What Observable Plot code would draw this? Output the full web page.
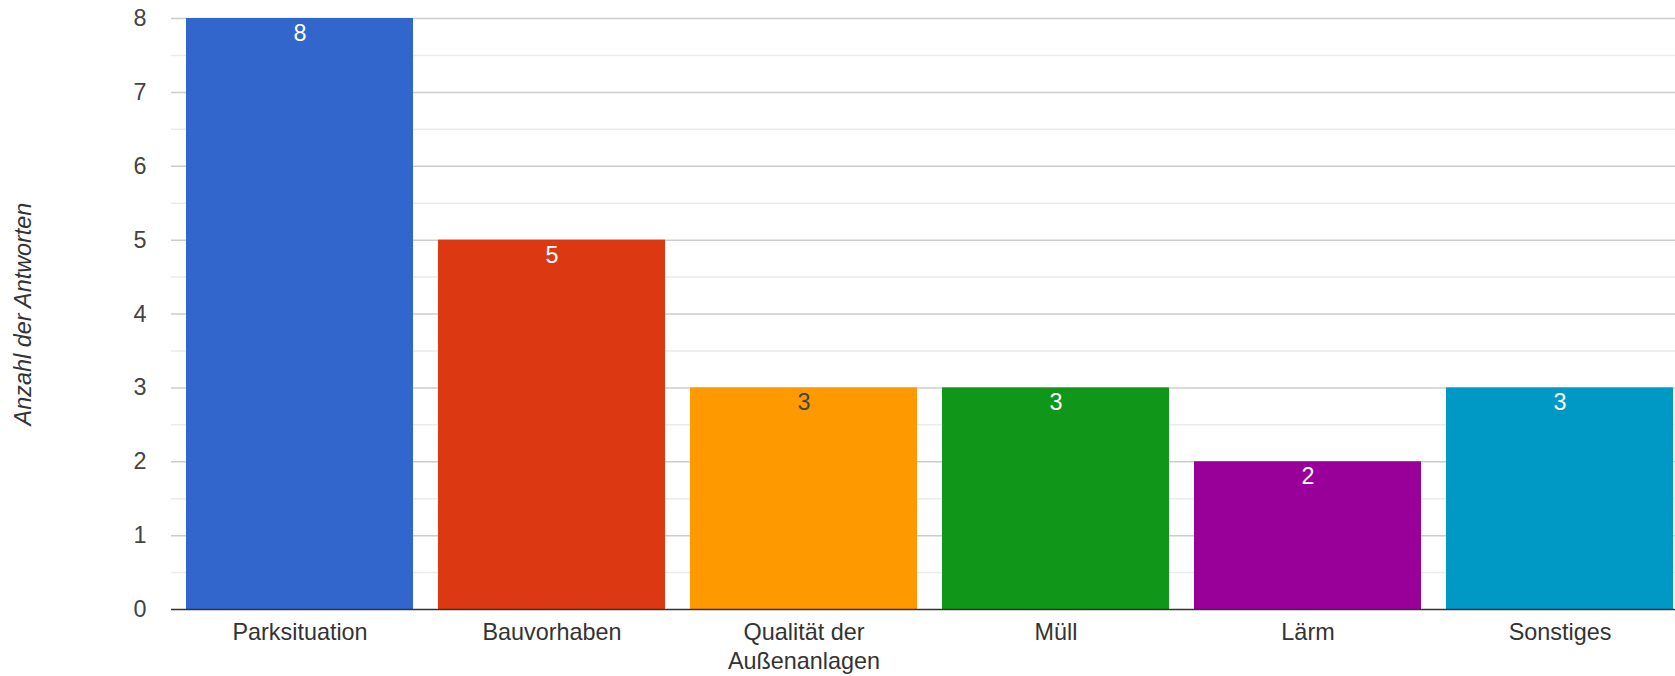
<!DOCTYPE html>
<html>
<head>
<meta charset="utf-8">
<script src="https://cdn.jsdelivr.net/npm/d3@7"></script>
<script src="https://cdn.jsdelivr.net/npm/@observablehq/plot@0.6"></script>
<style>
  html, body { margin: 0; padding: 0; background: #fff; overflow: hidden; }
  #chart svg { display: block; }
</style>
</head>
<body>
<div id="chart"></div>
<script>
const categories = ["Parksituation", "Bauvorhaben", "Qualität der Außenanlagen", "Müll", "Lärm", "Sonstiges"];
const tickLabels = ["Parksituation", "Bauvorhaben", "Qualität der\nAußenanlagen", "Müll", "Lärm", "Sonstiges"];
const values = [8, 5, 3, 3, 2, 3];
const colors = ["#3366cc", "#dc3912", "#ff9900", "#109618", "#990099", "#0099c6"];
const labelColors = ["#ffffff", "#ffffff", "#444444", "#ffffff", "#ffffff", "#ffffff"];
const yTicks = [0, 1, 2, 3, 4, 5, 6, 7, 8];
const yMinorTicks = [0.5, 1.5, 2.5, 3.5, 4.5, 5.5, 6.5, 7.5];
const yTitle = "Anzahl der Antworten";

const data = categories.map((c, i) => ({category: c, value: values[i], color: colors[i], labelColor: labelColors[i]}));
const FONT = "'Liberation Sans', Arial, sans-serif";
const FS = 23.4;

const chart = Plot.plot({
  width: 1675,
  height: 676,
  marginTop: 18,
  marginBottom: 67,
  marginLeft: 171,
  marginRight: -13,
  style: {fontFamily: FONT, fontSize: FS + "px", background: "#fff"},
  x: {domain: categories, paddingInner: 0.1, paddingOuter: 0.05},
  y: {domain: [0, 8]},
  marks: [
    Plot.ruleY(yMinorTicks, {stroke: "#ebebeb", strokeWidth: 1.5}),
    Plot.ruleY(yTicks.filter(d => d !== 0), {stroke: "#cccccc", strokeWidth: 1.5}),
    Plot.barY(data, {x: "category", y: "value", fill: d => d.color}),
    Plot.ruleY([0], {stroke: "#333333", strokeWidth: 1.5}),
    Plot.text(data, {x: "category", y: "value", text: d => String(d.value), fill: d => d.labelColor, dy: 15, lineAnchor: "middle", fontSize: FS}),
    Plot.axisY(yTicks, {tickSize: 0, tickPadding: 25, tickFormat: d => String(d), label: null, fill: "#444444", fontSize: FS}),
    Plot.axisX(categories, {tickSize: 0, tickPadding: 10, tickFormat: (d) => tickLabels[categories.indexOf(d)], label: null, fill: "#333333", fontSize: FS, lineHeight: 1.24}),
    Plot.text([yTitle], {frameAnchor: "left", dx: -148, rotate: -90, text: d => d, fontStyle: "italic", fill: "#333333", fontSize: FS, textAnchor: "middle", lineAnchor: "middle"})
  ]
});
document.getElementById("chart").appendChild(chart);
</script>
</body>
</html>
